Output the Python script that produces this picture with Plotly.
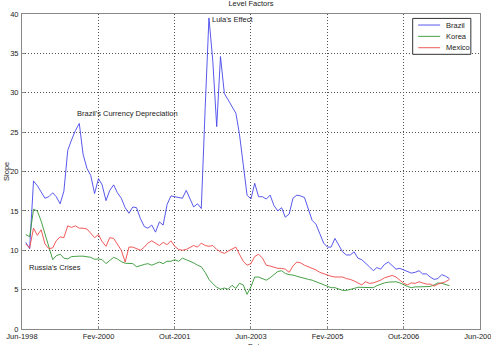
import pandas as pd
import plotly.graph_objects as go

# monthly observations, Jul-1998 .. Oct-2007
dates = pd.date_range("1998-07-01", periods=112, freq="MS")

brazil = [11.0, 10.2, 18.8, 18.2, 17.4, 16.6, 16.8, 17.3, 16.8, 15.9,
          17.5, 22.7, 24.0, 25.2, 26.1, 22.2, 20.4, 19.5, 17.2, 19.1,
          18.3, 16.3, 17.6, 18.3, 17.3, 16.6, 15.4, 14.7, 15.5, 15.4,
          14.0, 13.0, 12.8, 13.2, 12.3, 13.6, 13.2, 15.8, 16.9, 16.8,
          16.7, 16.6, 17.6, 16.6, 15.5, 15.9, 15.3, 28.0, 39.5, 34.0,
          25.7, 34.6, 29.9, 29.1, 28.3, 27.4, 24.8, 20.5, 17.0, 16.5,
          18.5, 16.8, 16.8, 16.5, 17.0, 15.7, 15.0, 15.4, 14.2, 14.6,
          16.6, 17.0, 16.9, 16.7, 15.2, 13.8, 13.3, 12.0, 10.9, 10.4,
          10.4, 11.5, 10.6, 9.8, 9.4, 9.4, 9.8, 9.0, 8.8, 8.4,
          7.9, 7.4, 7.8, 7.6, 8.2, 8.5, 8.1, 7.6, 7.7, 7.5,
          7.2, 7.1, 7.2, 7.4, 7.0, 7.0, 6.6, 6.3, 6.4, 6.9,
          6.7, 6.4]

korea = [12.0, 11.7, 15.2, 15.0, 13.7, 12.2, 10.6, 8.8, 9.3, 9.5,
         9.0, 8.9, 9.2, 9.25, 9.25, 9.25, 9.2, 9.1, 8.85, 8.9,
         8.8, 8.3, 8.7, 9.1, 8.9, 8.55, 8.35, 8.3, 8.3, 7.9,
         8.1, 8.2, 8.3, 8.1, 8.3, 8.5, 8.3, 8.6, 8.6, 8.8,
         8.6, 9.0, 8.8, 8.6, 8.4, 8.1, 7.9, 7.2, 6.3, 5.75,
         5.3, 5.05, 5.2, 5.05, 5.55, 5.15, 5.8, 5.6, 4.4, 5.35,
         6.6, 6.6, 6.35, 6.2, 6.5, 6.9, 7.3, 7.4, 7.05, 6.9,
         6.85, 6.7, 6.55, 6.4, 6.3, 6.2, 6.0, 5.8, 5.65, 5.4,
         5.25, 5.25, 5.1, 4.9, 4.9, 5.0, 5.15, 5.3, 5.3, 5.25,
         5.25, 5.25, 5.5, 5.7, 5.85, 5.95, 6.0, 6.0, 5.85, 5.6,
         5.4, 5.25, 5.35, 5.35, 5.35, 5.35, 5.4, 5.6, 5.85, 5.8,
         5.6, 5.5]

mexico = [10.8, 10.3, 12.8, 11.9, 12.6, 10.8, 10.2, 10.3, 11.2, 11.7,
          11.6, 13.1, 12.9, 13.1, 12.8, 12.8, 12.7, 12.2, 11.6, 12.0,
          11.1, 10.5, 11.6, 11.5, 10.8, 10.0, 8.5, 10.4, 10.4, 10.2,
          10.0, 10.4, 10.9, 11.2, 10.9, 10.6, 11.0, 10.7, 11.2, 10.5,
          10.1, 10.0, 10.1, 10.4, 10.6, 10.4, 10.9, 10.6, 10.5, 10.6,
          10.1, 9.8, 9.6, 9.9, 10.1, 10.4, 9.5, 8.6, 8.1, 8.3,
          9.2, 9.5, 9.0, 8.1, 8.0, 7.9, 7.7, 7.7, 7.6, 7.2,
          8.0, 8.5, 8.4, 8.1, 7.9, 7.7, 7.5, 7.2, 7.0, 6.8,
          6.7, 6.6, 6.6, 6.6, 6.4, 6.3, 6.1, 5.8, 5.6, 6.0,
          5.8, 5.85, 6.0, 6.2, 6.5, 6.7, 6.8, 6.6, 6.2, 5.8,
          5.6, 5.85, 5.8, 6.0, 5.85, 5.7, 5.7, 5.45, 5.7, 5.9,
          6.0, 6.3]

series_names = ["Brazil", "Korea", "Mexico"]
series_colors = ["rgb(70,70,235)", "rgb(50,150,50)", "rgb(240,70,70)"]

tick_dates = ["1998-06-01", "2000-02-01", "2001-10-01", "2003-06-01",
              "2005-02-01", "2006-10-01", "2008-06-01"]
tick_labels = ["Jun-1998", "Fev-2000", "Out-2001", "Jun-2003",
               "Fev-2005", "Out-2006", "Jun-2008"]
y_ticks = [0, 5, 10, 15, 20, 25, 30, 35, 40]

FONT = "Liberation Sans, Arial, sans-serif"
FS = 7.5
TXT = "#222222"

fig = go.Figure()
for name, vals, col in zip(series_names, [brazil, korea, mexico], series_colors):
    fig.add_trace(go.Scatter(x=dates, y=vals, mode="lines", name=name,
                             line=dict(color=col, width=0.9), showlegend=False))

peak_i = max(range(len(brazil)), key=lambda i: brazil[i])
fig.add_annotation(x=dates[peak_i], y=brazil[peak_i], text="Lula's Effect",
                   showarrow=False, xanchor="left", yanchor="middle",
                   xshift=1, yshift=-2, font=dict(family=FONT, size=FS, color=TXT))
fig.add_annotation(x="1999-08-01", y=27.4, text="Brazil's Currency Depreciation",
                   showarrow=False, xanchor="left", yanchor="middle",
                   font=dict(family=FONT, size=FS, color=TXT))
fig.add_annotation(x="1998-07-08", y=7.8, text="Russia's Crises",
                   showarrow=False, xanchor="left", yanchor="middle",
                   font=dict(family=FONT, size=FS, color=TXT))
fig.add_annotation(xref="paper", yref="paper", x=0.51, y=-0.035, text="Date",
                   showarrow=False, xanchor="center", yanchor="top",
                   font=dict(family=FONT, size=FS, color=TXT))
fig.add_annotation(xref="paper", yref="paper", x=-0.034, y=0.5, text="Slope",
                   textangle=-90, showarrow=False, xanchor="center", yanchor="middle",
                   font=dict(family=FONT, size=FS, color=TXT))

# compact legend box (paper coordinates of the plot area)
lg_x0, lg_x1, lg_y0, lg_y1 = 0.853, 0.980, 0.872, 0.986
row_y = [0.965, 0.929, 0.893]
fig.add_shape(type="rect", xref="paper", yref="paper", x0=lg_x0, x1=lg_x1,
              y0=lg_y0, y1=lg_y1, line=dict(color="#333333", width=1),
              fillcolor="white", layer="above")
for name, col, ry in zip(series_names, series_colors, row_y):
    fig.add_shape(type="line", xref="paper", yref="paper", x0=0.865, x1=0.913,
                  y0=ry, y1=ry, line=dict(color=col, width=0.9), layer="above")
    fig.add_annotation(xref="paper", yref="paper", x=0.921, y=ry, text=name,
                       showarrow=False, xanchor="left", yanchor="middle",
                       font=dict(family=FONT, size=FS, color=TXT))

axis_common = dict(showgrid=True, gridcolor="#555555", griddash="1px,2px", gridwidth=1,
                   showline=True, mirror=True, linecolor="#888888", linewidth=1,
                   ticks="inside", ticklen=3, tickcolor="#888888",
                   zeroline=False, automargin=False,
                   tickfont=dict(family=FONT, size=FS, color=TXT))

fig.update_layout(
    width=491, height=345,
    margin=dict(l=22, r=11, t=14, b=16),
    paper_bgcolor="white", plot_bgcolor="white",
    font=dict(family=FONT, size=FS, color=TXT),
    title=dict(text="Level Factors", x=0.511, xanchor="center", y=0.997,
               yanchor="top", font=dict(family=FONT, size=FS, color=TXT)),
    showlegend=False,
    xaxis=dict(type="date", range=["1998-06-01", "2008-06-01"],
               tickvals=tick_dates, ticktext=tick_labels,
               ticklabeloverflow="allow", ticklabelstandoff=0, **axis_common),
    yaxis=dict(range=[0, 40], tickvals=y_ticks, ticklabelstandoff=1, **axis_common),
)

fig.write_html("out.html")
